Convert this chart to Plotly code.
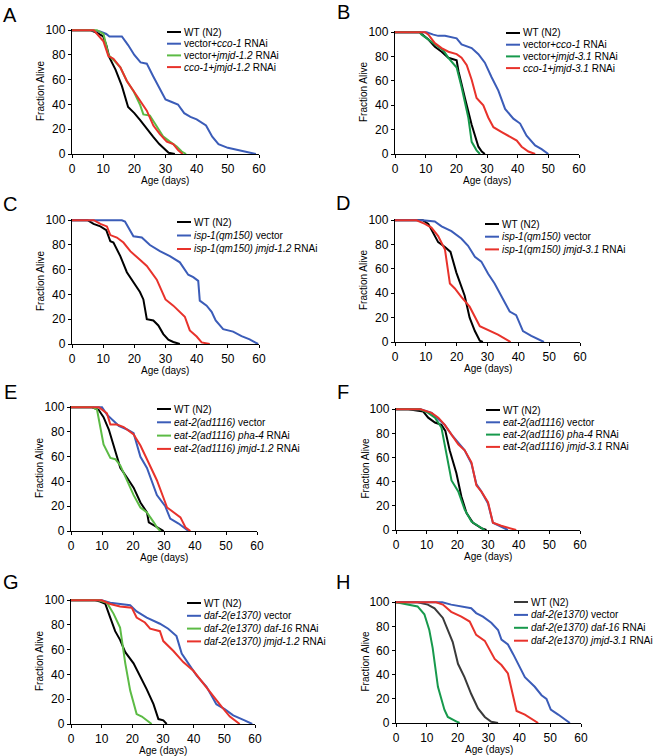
import plotly.graph_objects as go

# survival curves (day, % alive)
# ---- A ----
a_wt_day = [0, 6, 8, 10, 11, 12, 14, 16, 18, 20, 22, 24, 26, 28, 30, 31, 33]
a_wt_alive = [100, 100, 98, 95, 88, 78, 68, 55, 38, 33, 27, 20, 14, 8, 3, 1, 0]
a_cco_day = [0, 6, 9, 11, 12, 16, 18, 20, 22, 24, 26, 28, 30, 32, 34, 36, 38, 40, 42, 43, 45, 47, 50, 54, 57, 59]
a_cco_alive = [100, 100, 99, 97, 95, 95, 88, 80, 74, 73, 63, 53, 44, 42, 40, 33, 30, 28, 25, 23, 14, 8, 5, 3, 1, 0]
a_jmjd_day = [0, 8, 10.1, 11.7, 13.3, 15.5, 17.6, 19.7, 21.8, 22.9, 25, 27.2, 29.3, 31.4, 33.6, 35.2, 36.6]
a_jmjd_alive = [100, 100, 97, 80, 76, 70, 59, 51, 40, 32, 31, 22, 14, 10, 6, 2, 0]
a_both_day = [0, 7, 10.1, 11.7, 13.3, 15.5, 17.6, 19.7, 21.8, 24, 26.1, 28.2, 30.4, 32.5, 34.1, 35.5]
a_both_alive = [100, 100, 91, 79, 77, 70, 59, 51, 44, 35, 23, 16, 10, 8, 3, 0]

# ---- B ----
b_wt_day = [0, 8, 10.9, 13, 15.2, 17.4, 20.1, 20.7, 22.8, 25, 27.2, 28.3, 29.3]
b_wt_alive = [100, 100, 94, 88, 84, 79, 77, 68, 46, 24, 6, 2, 0]
b_cco_day = [0, 10.3, 12.5, 14.1, 16.3, 20.1, 21.7, 25, 27.2, 29.3, 31.5, 33.7, 35.9, 38.6, 40.8, 42.9, 45.7, 47.8, 50]
b_cco_alive = [100, 100, 98, 97, 97, 95, 90, 87, 82, 75, 63, 52, 37, 29, 25, 15, 7, 4, 0]
b_jmjd_day = [0, 8, 8.7, 10.9, 13, 15.8, 17.4, 20.1, 21.7, 23.9, 25, 26.6, 27.7]
b_jmjd_alive = [100, 100, 98, 94, 90, 85, 79, 71, 55, 30, 10, 3, 0]
b_both_day = [0, 9.8, 10.9, 13, 15.2, 17.4, 20.1, 21.7, 23.4, 25, 26.6, 28.8, 30.4, 32.1, 34.8, 37.5, 39.7, 41.3, 43.5, 45.7]
b_both_alive = [100, 100, 98, 91, 87, 84, 82, 79, 73, 61, 46, 40, 30, 22, 18, 14, 11, 6, 2, 0]

# ---- C ----
c_wt_day = [0, 5, 6.9, 9.1, 11, 12.3, 13.3, 15.5, 17.6, 19.7, 21.8, 22.9, 24, 26.1, 27.7, 29.3, 30.9, 32.5, 34.6]
c_wt_alive = [100, 100, 97, 95, 92, 83, 82, 71, 58, 50, 42, 36, 20, 19, 15, 8, 3.5, 1.6, 0]
c_isp_day = [0, 16, 17, 19.7, 22.4, 25, 28.2, 31.4, 34.6, 37.3, 38.9, 40.5, 41, 43.2, 44.8, 46.1, 48.5, 51.7, 54.4, 57, 59.7]
c_isp_alive = [100, 100, 99, 87, 86, 80, 75, 71, 66, 56, 54, 51, 35, 31, 26, 19, 12, 10, 6.4, 3.7, 0]
c_jmjd_day = [0, 7, 9.1, 11.2, 12.3, 14.4, 16.5, 18.7, 21.8, 24, 27.2, 30, 32.5, 34.6, 36.2, 37.8, 40, 41.6, 44.2]
c_jmjd_alive = [100, 100, 97, 95, 88, 86, 82, 75, 68, 63, 52, 36, 31, 26, 22, 11, 6, 1.3, 0]

# ---- D ----
d_wt_day = [0, 9, 10.8, 12.4, 14, 16.2, 18, 19.9, 22.6, 24.2, 25.9, 27.5, 28.5]
d_wt_alive = [100, 100, 97, 90, 82, 78, 74, 57, 38, 20, 9, 1, 0]
d_isp_day = [0, 9, 12.9, 15.1, 18.3, 21.5, 23.7, 25.9, 28, 30.2, 32.3, 34.5, 37.2, 39.3, 41.5, 44.2, 48.3]
d_isp_alive = [100, 100, 99, 95, 91, 85, 79, 70, 66, 56, 48, 38, 25, 22, 9, 5, 0]
d_jmjd_day = [0, 7, 9.7, 11.8, 14, 16.2, 17.8, 19.4, 21.5, 24.2, 27.5, 30.2, 33.4, 37.5]
d_jmjd_alive = [100, 100, 97, 94, 87, 76, 48, 44, 37, 29, 13, 10, 6, 0]

# ---- E ----
e_wt_day = [0, 6.8, 8.9, 10.5, 12.2, 13.8, 15.9, 18.1, 20.2, 22.4, 24.5, 25.1, 27.2, 29.4, 29.9]
e_wt_alive = [100, 100, 98, 92, 82, 68, 51, 43, 35, 23, 15, 7, 4, 0.5, 0]
e_vec_day = [0, 10, 11.6, 13.2, 15.4, 18.1, 20.2, 22.4, 24.5, 27.7, 30.4, 32, 34.7, 37.9]
e_vec_alive = [100, 100, 94, 90, 85, 82, 79, 60, 51, 29, 20, 10, 6, 0]
e_pha_day = [0, 7, 8.4, 10.5, 12.7, 14.3, 15.9, 18.1, 20.2, 22.4, 24.5, 26.7, 27.7, 28.8]
e_pha_alive = [100, 100, 98, 70, 59, 58, 53, 41, 29, 19, 15, 7, 3, 0]
e_jmjd_day = [0, 9, 11.6, 12.7, 14.8, 17, 20.2, 22.4, 24.5, 27.7, 31, 33.1, 35.3, 36.9, 38.5]
e_jmjd_alive = [100, 100, 95, 86, 86, 84, 78, 69, 58, 41, 19, 15, 11, 3, 0]

# ---- F ----
f_wt_day = [0, 4, 8.9, 10.5, 12.7, 14.8, 16.1, 17.5, 19.7, 21.3, 23, 25.1, 27.8, 29.5]
f_wt_alive = [100, 100, 98, 93, 89, 87, 82, 66, 47, 28, 14, 6, 1.6, 0]
f_vec_day = [0, 8, 11.6, 13.8, 15.9, 18.1, 20.3, 22.4, 24.6, 26.2, 27.8, 30, 31.6, 34.3, 36.5]
f_vec_alive = [100, 100, 97, 92, 87, 79, 72, 66, 55, 38, 32, 22, 6, 3, 0]
f_pha_day = [0, 7.8, 10.5, 12.7, 14.8, 16.5, 18.1, 20.3, 22.4, 24.6, 27.3, 28.9]
f_pha_alive = [100, 100, 97, 93, 85, 63, 41, 32, 17, 7, 2.5, 0]
f_jmjd_day = [0, 8, 11.6, 13.8, 15.9, 18.1, 20.3, 22.4, 24.6, 26.2, 27.8, 30, 31.6, 34.3, 37, 39.2]
f_jmjd_alive = [100, 100, 97, 93, 87, 79, 71, 66, 56, 37, 32, 23, 6, 3.5, 1.6, 0]

# ---- G ----
g_wt_day = [0, 7.9, 9.5, 11.2, 12.8, 14.4, 16, 17.7, 20.4, 22.5, 24.7, 26.9, 28.5, 30.1, 31.2]
g_wt_alive = [100, 100, 99, 97, 86, 75, 68, 58, 49, 39, 28, 16, 4, 3, 0]
g_vec_day = [0, 10, 12.8, 16, 19.3, 21.4, 24.7, 29, 31.7, 34.4, 36.1, 38.8, 41, 44.2, 47.4, 50.1, 52.9, 56.6, 59.1]
g_vec_alive = [100, 100, 98, 97, 96, 91, 86, 81, 77, 71, 57, 47, 39, 30, 16, 12, 7, 3, 0]
g_daf_day = [0, 9, 11.7, 13.9, 16, 17.7, 19.3, 21.4, 23.1, 25.2, 26.3]
g_daf_alive = [100, 100, 98, 89, 78, 49, 27, 8, 6, 1.6, 0]
g_jmjd_day = [0, 10, 12.8, 16, 19.8, 21.4, 24.1, 25.8, 29, 30.1, 33.4, 36.6, 39.9, 43.6, 46.4, 49.1, 51.8, 54, 55]
g_jmjd_alive = [100, 100, 97, 95, 94, 86, 82, 77, 75, 67, 59, 50, 43, 31, 22, 14, 6, 1.6, 0]

# ---- H ----
h_wt_day = [0, 7, 10.3, 12.5, 15.2, 16.8, 18.4, 20.1, 22.2, 24.4, 26.6, 28.8, 30.9, 33.1]
h_wt_alive = [100, 100, 98, 95, 87, 77, 67, 49, 38, 24, 12, 5, 1, 0]
h_vec_day = [0, 15, 17.9, 21.2, 24.4, 26, 28.2, 30.9, 33.1, 34.2, 36.3, 38, 40.1, 41.8, 45, 47.2, 48.8, 50.2, 52.6, 54.8, 56.4]
h_vec_alive = [100, 100, 98, 96.5, 95, 91, 88, 83, 77, 69, 65, 57, 46, 38, 30, 23, 20, 11, 7, 3, 0]
h_daf_day = [0, 3.8, 7, 9.2, 10.8, 11.9, 13.6, 15.7, 16.8, 19.5, 20.6]
h_daf_alive = [100, 98, 96.5, 90, 77, 62, 30, 11, 5, 1.4, 0]
h_jmjd_day = [0, 13, 15.2, 17.9, 21.2, 23.9, 26, 28.8, 32, 34.2, 36.3, 39.1, 41.8, 44.5, 46.1]
h_jmjd_alive = [100, 100, 98, 92, 88, 84, 73, 68, 53, 48, 41, 10, 7, 3, 0]

x_ticks = [0, 10, 20, 30, 40, 50, 60]
y_ticks = [0, 20, 40, 60, 80, 100]
x_title = 'Age (days)'
y_title = 'Fraction Alive'

BLACK = '#000000'
GREY = '#3a3a3a'
BLUE = '#3b5cb8'
RED = '#e8322b'
LGREEN = '#5cbb45'
DGREEN = '#17994c'

W, H = 656, 756

# panel: letter, axes box in px (left, right, top, bottom), letter pos, legend (line x0, y first row, row gap), curves
panels = [
    ('A', (72, 259, 29, 154), (10, 15), (167, 32, 11.7), [
        (a_wt_day, a_wt_alive, BLACK, 'WT (N2)'),
        (a_cco_day, a_cco_alive, BLUE, 'vector+<i>cco-1</i> RNAi'),
        (a_jmjd_day, a_jmjd_alive, LGREEN, 'vector+<i>jmjd-1.2</i> RNAi'),
        (a_both_day, a_both_alive, RED, '<i>cco-1</i>+<i>jmjd-1.2</i> RNAi')]),
    ('B', (395, 579, 31, 154), (343, 12), (506, 33, 11.7), [
        (b_wt_day, b_wt_alive, BLACK, 'WT (N2)'),
        (b_cco_day, b_cco_alive, BLUE, 'vector+<i>cco-1</i> RNAi'),
        (b_jmjd_day, b_jmjd_alive, DGREEN, 'vector+<i>jmjd-3.1</i> RNAi'),
        (b_both_day, b_both_alive, RED, '<i>cco-1</i>+<i>jmjd-3.1</i> RNAi')]),
    ('C', (72, 259, 219, 344), (10, 204), (177, 222, 13.5), [
        (c_wt_day, c_wt_alive, BLACK, 'WT (N2)'),
        (c_isp_day, c_isp_alive, BLUE, '<i>isp-1(qm150)</i> vector'),
        (c_jmjd_day, c_jmjd_alive, RED, '<i>isp-1(qm150) jmjd-1.2</i> RNAi')]),
    ('D', (395, 580, 219, 342), (343, 203), (485, 224, 12.7), [
        (d_wt_day, d_wt_alive, BLACK, 'WT (N2)'),
        (d_isp_day, d_isp_alive, BLUE, '<i>isp-1(qm150)</i> vector'),
        (d_jmjd_day, d_jmjd_alive, RED, '<i>isp-1(qm150) jmjd-3.1</i> RNAi')]),
    ('E', (71, 257, 406, 531), (10, 392), (157, 409, 13.3), [
        (e_wt_day, e_wt_alive, BLACK, 'WT (N2)'),
        (e_vec_day, e_vec_alive, BLUE, '<i>eat-2(ad1116)</i> vector'),
        (e_pha_day, e_pha_alive, LGREEN, '<i>eat-2(ad1116) pha-4</i> RNAi'),
        (e_jmjd_day, e_jmjd_alive, RED, '<i>eat-2(ad1116) jmjd-1.2</i> RNAi')]),
    ('F', (396, 580, 408, 530), (343, 392), (486, 410, 12.3), [
        (f_wt_day, f_wt_alive, BLACK, 'WT (N2)'),
        (f_vec_day, f_vec_alive, BLUE, '<i>eat-2(ad1116)</i> vector'),
        (f_pha_day, f_pha_alive, DGREEN, '<i>eat-2(ad1116) pha-4</i> RNAi'),
        (f_jmjd_day, f_jmjd_alive, RED, '<i>eat-2(ad1116) jmjd-3.1</i> RNAi')]),
    ('G', (71, 255, 599, 724), (11, 582), (187, 603, 12.8), [
        (g_wt_day, g_wt_alive, BLACK, 'WT (N2)'),
        (g_vec_day, g_vec_alive, BLUE, '<i>daf-2(e1370)</i> vector'),
        (g_daf_day, g_daf_alive, LGREEN, '<i>daf-2(e1370) daf-16</i> RNAi'),
        (g_jmjd_day, g_jmjd_alive, RED, '<i>daf-2(e1370) jmjd-1.2</i> RNAi')]),
    ('H', (396, 581, 601, 723), (343, 582), (514, 602, 12.9), [
        (h_wt_day, h_wt_alive, GREY, 'WT (N2)'),
        (h_vec_day, h_vec_alive, BLUE, '<i>daf-2(e1370)</i> vector'),
        (h_daf_day, h_daf_alive, DGREEN, '<i>daf-2(e1370) daf-16</i> RNAi'),
        (h_jmjd_day, h_jmjd_alive, RED, '<i>daf-2(e1370) jmjd-3.1</i> RNAi')]),
]

FONT = 'Liberation Sans, Arial, sans-serif'
LEG_SIZE = 10
TICK_SIZE = 12
TITLE_SIZE = 10


def px(x, y):
    # pixel position -> paper coords
    return x / W, 1 - y / H


fig = go.Figure()
shapes = []
annots = []

for i, (letter, box, lpos, leg, curves) in enumerate(panels):
    n = '' if i == 0 else str(i + 1)
    left, right, top, bottom = box
    axis_style = dict(showline=True, linecolor='black', linewidth=1.3, ticks='outside',
                      ticklen=3, tickwidth=1.3, tickcolor='black', showgrid=False,
                      zeroline=False, automargin=False, tickfont=dict(size=TICK_SIZE))
    fig.layout['xaxis' + n] = dict(domain=[left / W, right / W], range=[0, 60],
                                   tickvals=x_ticks, anchor='y' + n, **axis_style)
    fig.layout['yaxis' + n] = dict(domain=[1 - bottom / H, 1 - top / H], range=[0, 101],
                                   tickvals=y_ticks, anchor='x' + n, **axis_style)

    # axis titles
    tx, ty = px((left + right) / 2, bottom + 26)
    annots.append(dict(text=x_title, xref='paper', yref='paper', x=tx, y=ty,
                       xanchor='center', yanchor='middle', showarrow=False,
                       font=dict(size=TITLE_SIZE)))
    tx, ty = px(left - 31.5, (top + bottom) / 2)
    annots.append(dict(text=y_title, xref='paper', yref='paper', x=tx, y=ty, textangle=-90,
                       xanchor='center', yanchor='middle', showarrow=False,
                       font=dict(size=TITLE_SIZE)))

    lx, ly, gap = leg
    for j, (days, alive, col, name) in enumerate(curves):
        fig.add_trace(go.Scatter(x=days, y=alive, mode='lines', xaxis='x' + n, yaxis='y' + n,
                                 line=dict(color=col, width=2), showlegend=False, hoverinfo='skip'))
        yy = ly + j * gap
        x0, y0 = px(lx, yy)
        x1, _ = px(lx + 14, yy)
        shapes.append(dict(type='line', xref='paper', yref='paper', x0=x0, x1=x1, y0=y0, y1=y0,
                           line=dict(color=col, width=2)))
        tx, _ = px(lx + 15, yy)
        annots.append(dict(text=name, xref='paper', yref='paper', x=tx, y=y0,
                           xanchor='left', yanchor='middle', showarrow=False,
                           font=dict(size=LEG_SIZE, color='black')))

    tx, ty = px(*lpos)
    annots.append(dict(text=letter, xref='paper', yref='paper', x=tx, y=ty,
                       xanchor='center', yanchor='middle', showarrow=False,
                       font=dict(size=20, color='black')))

fig.update_layout(
    template='none',
    width=W, height=H,
    margin=dict(l=0, r=0, t=0, b=0),
    plot_bgcolor='white',
    paper_bgcolor='white',
    font=dict(family=FONT, color='black', size=11),
    shapes=shapes,
    annotations=annots,
    showlegend=False,
)

# page body has a default 8px margin; drop it so the figure sits at the window origin
fig.write_html("out.html", config={'displayModeBar': False},
               post_script="document.body.style.margin='0px';")
